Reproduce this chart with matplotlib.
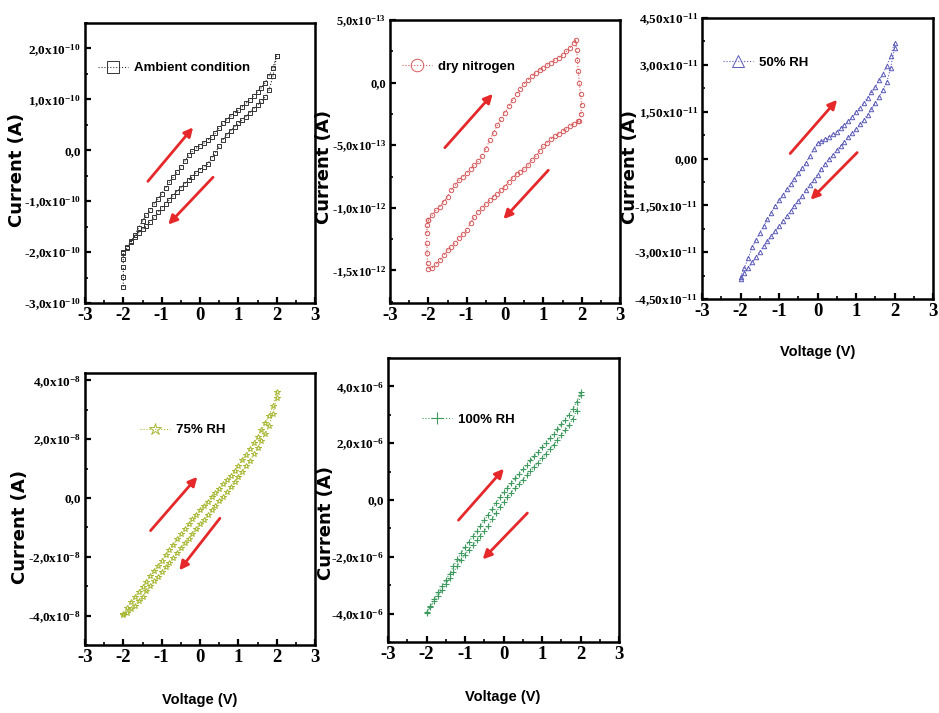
import matplotlib
matplotlib.use('Agg')
import matplotlib.pyplot as plt
from matplotlib.ticker import FixedLocator, MultipleLocator

plt.rcParams['mathtext.fontset'] = 'custom'
plt.rcParams['mathtext.rm'] = 'Liberation Serif:bold'
plt.rcParams['mathtext.it'] = 'Liberation Serif:bold'
plt.rcParams['mathtext.bf'] = 'Liberation Serif:bold'
plt.rcParams['mathtext.default'] = 'rm'
plt.rcParams['axes.unicode_minus'] = False

# ---------------- data ----------------
sweep_v = [-2.0, -1.9, -1.8, -1.7, -1.6, -1.5, -1.4, -1.3, -1.2, -1.1, -1.0,
           -0.9, -0.8, -0.7, -0.6, -0.5, -0.4, -0.3, -0.2, -0.1, 0.0,
           0.1, 0.2, 0.3, 0.4, 0.5, 0.6, 0.7, 0.8, 0.9, 1.0,
           1.1, 1.2, 1.3, 1.4, 1.5, 1.6, 1.7, 1.8, 1.9, 2.0]

# Ambient condition (units 1e-10 A)
ambient_tail_v = [-2.0, -2.0, -2.0, -2.0]
ambient_tail_i = [-2.68, -2.48, -2.30, -2.14]
ambient_fwd_i = [-2.00, -1.90, -1.79, -1.66, -1.52, -1.39, -1.27, -1.17, -1.06, -0.96, -0.85,
                 -0.74, -0.63, -0.53, -0.43, -0.33, -0.22, -0.10, -0.02, 0.04, 0.09,
                 0.14, 0.20, 0.26, 0.34, 0.44, 0.53, 0.60, 0.67, 0.73, 0.79,
                 0.85, 0.92, 0.99, 1.07, 1.15, 1.23, 1.33, 1.46, 1.62, 1.85]
ambient_rev_i = [-2.02, -1.92, -1.80, -1.70, -1.62, -1.55, -1.48, -1.40, -1.31, -1.22, -1.13,
                 -1.05, -0.97, -0.89, -0.81, -0.74, -0.66, -0.59, -0.52, -0.44, -0.38,
                 -0.33, -0.27, -0.15, -0.05, 0.08, 0.21, 0.30, 0.38, 0.46, 0.53,
                 0.60, 0.66, 0.74, 0.82, 0.89, 0.96, 1.05, 1.18, 1.45, 1.85]

# Dry nitrogen (units 1e-13 A)
n2_fwd_i = [-11.0, -10.6, -10.2, -9.9, -9.5, -9.1, -8.6, -8.2, -7.8, -7.5, -7.2,
            -6.9, -6.6, -6.3, -5.9, -5.3, -4.6, -4.0, -3.4, -2.9, -2.4,
            -1.9, -1.4, -0.9, -0.5, -0.1, 0.2, 0.5, 0.8, 1.0, 1.2,
            1.4, 1.6, 1.8, 2.0, 2.2, 2.5, 2.8, 3.2]
n2_right_v = [1.84, 1.87, 1.89, 1.91, 1.94, 1.97, 2.0, 1.98, 1.94]
n2_right_i = [3.4, 2.6, 1.8, 0.9, 0.0, -0.9, -1.8, -2.5, -3.1]
n2_rev_i = [-14.9, -14.8, -14.5, -14.2, -13.8, -13.4, -13.1, -12.8, -12.4, -12.1, -11.8,
            -11.2, -10.7, -10.3, -10.0, -9.7, -9.4, -9.1, -8.9, -8.6, -8.3,
            -7.9, -7.6, -7.3, -7.1, -6.9, -6.6, -6.2, -5.9, -5.5, -5.1,
            -4.8, -4.5, -4.3, -4.1, -3.9, -3.7, -3.5, -3.3, -3.1]
n2_left_v = [-2.02, -2.03, -2.04, -2.04, -2.03]
n2_left_i = [-14.4, -13.6, -12.8, -12.0, -11.4]

# 50% RH (units 1e-11 A)
rh50_fwd_i = [-3.80, -3.50, -3.20, -2.85, -2.60, -2.38, -2.16, -1.95, -1.73, -1.53, -1.34,
              -1.16, -0.99, -0.82, -0.65, -0.48, -0.32, -0.14, 0.08, 0.30, 0.50,
              0.55, 0.62, 0.70, 0.78, 0.86, 0.97, 1.08, 1.20, 1.33, 1.48,
              1.63, 1.79, 1.95, 2.12, 2.30, 2.50, 2.72, 2.97, 3.28, 3.70]
rh50_rev_i = [-3.85, -3.68, -3.50, -3.32, -3.15, -2.98, -2.81, -2.64, -2.48, -2.32, -2.16,
              -2.00, -1.84, -1.68, -1.51, -1.35, -1.19, -1.02, -0.85, -0.68, -0.52,
              -0.35, -0.18, -0.02, 0.12, 0.26, 0.40, 0.54, 0.68, 0.81, 0.95,
              1.09, 1.24, 1.40, 1.58, 1.78, 1.98, 2.20, 2.45, 2.90, 3.55]

# 75% RH (units 1e-8 A)
rh75_fwd_i = [-3.95, -3.74, -3.55, -3.37, -3.19, -3.02, -2.85, -2.67, -2.49, -2.31, -2.13,
              -1.95, -1.77, -1.59, -1.41, -1.24, -1.07, -0.90, -0.73, -0.57, -0.42,
              -0.27, -0.12, 0.03, 0.17, 0.32, 0.46, 0.61, 0.76, 0.93, 1.10,
              1.28, 1.47, 1.66, 1.86, 2.07, 2.30, 2.54, 2.80, 3.12, 3.60]
rh75_rev_i = [-3.98, -3.90, -3.79, -3.66, -3.52, -3.36, -3.18, -3.00, -2.84, -2.68, -2.52,
              -2.36, -2.20, -2.03, -1.86, -1.70, -1.54, -1.38, -1.22, -1.06, -0.90,
              -0.74, -0.58, -0.42, -0.26, -0.10, 0.05, 0.21, 0.38, 0.55, 0.72,
              0.90, 1.08, 1.27, 1.48, 1.70, 1.93, 2.18, 2.46, 2.85, 3.40]

# 100% RH (units 1e-6 A)
rh100_fwd_i = [-3.96, -3.72, -3.48, -3.25, -3.04, -2.83, -2.59, -2.34, -2.09, -1.86, -1.66,
               -1.47, -1.28, -1.09, -0.90, -0.71, -0.52, -0.32, -0.12, 0.09, 0.28,
               0.44, 0.60, 0.76, 0.92, 1.08, 1.24, 1.40, 1.55, 1.70, 1.86,
               2.02, 2.17, 2.33, 2.49, 2.66, 2.83, 3.01, 3.21, 3.45, 3.80]
rh100_rev_i = [-3.98, -3.78, -3.57, -3.37, -3.17, -2.97, -2.76, -2.55, -2.32, -2.10, -1.92,
               -1.75, -1.58, -1.41, -1.25, -1.08, -0.90, -0.68, -0.45, -0.23, -0.06,
               0.10, 0.26, 0.42, 0.57, 0.72, 0.87, 1.02, 1.17, 1.32, 1.47,
               1.62, 1.78, 1.94, 2.11, 2.28, 2.46, 2.64, 2.86, 3.15, 3.70]

x_ticks = [-3, -2, -1, 0, 1, 2, 3]
x_ticklabels = ['-3', '-2', '-1', '0', '1', '2', '3']

ambient_yticks = [-3e-10, -2e-10, -1e-10, 0, 1e-10, 2e-10]
ambient_yticklabels = ['-3,0x10$^{-10}$', '-2,0x10$^{-10}$', '-1,0x10$^{-10}$', '0,0',
                       '1,0x10$^{-10}$', '2,0x10$^{-10}$']
n2_yticks = [-1.5e-12, -1e-12, -5e-13, 0, 5e-13]
n2_yticklabels = ['-1,5x10$^{-12}$', '-1,0x10$^{-12}$', '-5,0x10$^{-13}$', '0,0', '5,0x10$^{-13}$']
rh50_yticks = [-4.5e-11, -3e-11, -1.5e-11, 0, 1.5e-11, 3e-11, 4.5e-11]
rh50_yticklabels = ['-4,50x10$^{-11}$', '-3,00x10$^{-11}$', '-1,50x10$^{-11}$', '0,00',
                    '1,50x10$^{-11}$', '3,00x10$^{-11}$', '4,50x10$^{-11}$']
rh75_yticks = [-4e-8, -2e-8, 0, 2e-8, 4e-8]
rh75_yticklabels = ['-4,0x10$^{-8}$', '-2,0x10$^{-8}$', '0,0', '2,0x10$^{-8}$', '4,0x10$^{-8}$']
rh100_yticks = [-4e-6, -2e-6, 0, 2e-6, 4e-6]
rh100_yticklabels = ['-4,0x10$^{-6}$', '-2,0x10$^{-6}$', '0,0', '2,0x10$^{-6}$', '4,0x10$^{-6}$']

# arrow annotations (start V, start I, end V, end I), in plot units
ambient_arrows = [(-1.36, -0.61e-10, -0.18, 0.45e-10), (0.34, -0.53e-10, -0.83, -1.46e-10)]
n2_arrows = [(-1.57, -5.2e-13, -0.32, -0.9e-13), (1.13, -7.0e-13, -0.04, -10.9e-13)]
rh50_arrows = [(-0.71, 0.16e-11, 0.51, 1.88e-11), (1.03, 0.19e-11, -0.18, -1.32e-11)]
rh75_arrows = [(-1.29, -1.11e-8, -0.07, 0.72e-8), (0.52, -0.69e-8, -0.54, -2.46e-8)]
rh100_arrows = [(-1.17, -0.71e-6, 0.01, 1.10e-6), (0.62, -0.46e-6, -0.54, -2.09e-6)]

# ---------------- figure ----------------
W, H = 939, 713
fig = plt.figure(figsize=(W / 100, H / 100), dpi=100)


def px_axes(left, top, right, bottom):
    return fig.add_axes([left / W, 1 - bottom / H, (right - left) / W, (bottom - top) / H])


serif = 'Liberation Serif'
narrow = ['Liberation Sans Narrow', 'Liberation Sans', 'DejaVu Sans']
arrow_color = '#e5282a'


def style(ax, ylim, yticks, ylabels, yminor, yfs=9.5):
    ax.set_xlim(-3, 3)
    ax.set_ylim(*ylim)
    ax.xaxis.set_major_locator(FixedLocator(x_ticks))
    ax.xaxis.set_minor_locator(MultipleLocator(0.5))
    ax.set_xticklabels(x_ticklabels, fontfamily=serif, fontweight='bold', fontsize=13.5)
    ax.yaxis.set_major_locator(FixedLocator(yticks))
    ax.yaxis.set_minor_locator(MultipleLocator(yminor))
    ax.set_yticklabels(ylabels, fontfamily=serif, fontweight='bold', fontsize=yfs)
    ax.tick_params(which='major', direction='in', length=4, width=1.6, pad=3,
                   top=False, right=False)
    ax.tick_params(which='minor', direction='in', length=2.5, width=1.2,
                   top=False, right=False)
    for s in ax.spines.values():
        s.set_linewidth(1.8)


def arrows(ax, arr):
    for (x0, y0, x1, y1) in arr:
        ax.annotate('', xy=(x1, y1), xytext=(x0, y0),
                    arrowprops=dict(arrowstyle='-|>', color=arrow_color, lw=2.0,
                                    mutation_scale=13, shrinkA=0, shrinkB=0))


def legend(ax, anchor, ms):
    ax.legend(loc='center left', bbox_to_anchor=anchor, frameon=False,
              handlelength=2.3, handletextpad=0.4, borderpad=0, borderaxespad=0,
              markerscale=9.0 / ms,
              prop=dict(family=narrow, weight='bold', size=9.5))


# Panel 1: ambient
ax1 = px_axes(85, 23, 315, 303)
s = 1e-10
v1 = ambient_tail_v + sweep_v + sweep_v[::-1]
i1 = [x * s for x in ambient_tail_i + ambient_fwd_i + ambient_rev_i[::-1]]
ax1.plot(v1, i1, ls=':', lw=0.8, color='#333333', marker='s', ms=3.0, mfc='none',
         mew=0.7, label='Ambient condition')
style(ax1, (-3e-10, 2.5e-10), ambient_yticks, ambient_yticklabels, 0.5e-10)
arrows(ax1, ambient_arrows)
legend(ax1, (0.057, 0.839), 3.0)

# Panel 2: dry nitrogen
ax2 = px_axes(390, 20, 620, 303)
s = 1e-13
v2 = sweep_v[:39] + n2_right_v + sweep_v[:40][::-1] + n2_left_v + sweep_v[:1]
i2 = [x * s for x in n2_fwd_i + n2_right_i + n2_rev_i[::-1] + n2_left_i + n2_fwd_i[:1]]
ax2.plot(v2, i2, ls=':', lw=0.8, color='#d65a5c', marker='o', ms=3.2, mfc='none',
         mew=0.7, label='dry nitrogen')
style(ax2, (-1.76e-12, 5e-13), n2_yticks, n2_yticklabels, 2.5e-13, yfs=9.0)
arrows(ax2, n2_arrows)
legend(ax2, (0.052, 0.834), 3.2)

# Panel 3: 50% RH
ax3 = px_axes(702, 18, 933, 299)
s = 1e-11
v3 = sweep_v + sweep_v[::-1]
i3 = [x * s for x in rh50_fwd_i + rh50_rev_i[::-1]]
ax3.plot(v3, i3, ls=':', lw=0.8, color='#5a5ab8', marker='^', ms=3.2, mfc='none',
         mew=0.7, label='50% RH')
style(ax3, (-4.5e-11, 4.5e-11), rh50_yticks, rh50_yticklabels, 0.75e-11)
arrows(ax3, rh50_arrows)
legend(ax3, (0.091, 0.84), 3.2)

# Panel 4: 75% RH
ax4 = px_axes(85, 373, 315, 645)
s = 1e-8
v4 = sweep_v + sweep_v[::-1]
i4 = [x * s for x in rh75_fwd_i + rh75_rev_i[::-1]]
ax4.plot(v4, i4, ls=':', lw=0.8, color='#a9b835', marker='*', ms=4.0, mfc='none',
         mew=0.7, label='75% RH')
style(ax4, (-5e-8, 4.25e-8), rh75_yticks, rh75_yticklabels, 1e-8)
arrows(ax4, rh75_arrows)
legend(ax4, (0.239, 0.79), 4.0)

# Panel 5: 100% RH
ax5 = px_axes(388, 358, 619, 642)
s = 1e-6
v5 = sweep_v + sweep_v[::-1]
i5 = [x * s for x in rh100_fwd_i + rh100_rev_i[::-1]]
ax5.plot(v5, i5, ls=':', lw=0.8, color='#3f9a5f', marker='+', ms=4.0,
         mew=0.8, label='100% RH')
style(ax5, (-5e-6, 5e-6), rh100_yticks, rh100_yticklabels, 1e-6)
arrows(ax5, rh100_arrows)
legend(ax5, (0.147, 0.782), 4.0)

# axis labels
ylab = dict(rotation=90, ha='center', va='center', fontfamily='DejaVu Sans',
            fontweight='bold', fontsize=13)
for (x, y) in [(17, 170), (324, 167), (630, 167), (20, 527), (326, 523)]:
    fig.text(x / W, 1 - y / H, 'Current (A)', **ylab)

xlab = dict(ha='center', va='center', fontfamily=narrow, fontweight='bold', fontsize=10.5)
for (x, y) in [(818, 352), (200, 700), (503, 697)]:
    fig.text(x / W, 1 - y / H, 'Voltage (V)', **xlab)

fig.savefig('out.png', dpi=100)
